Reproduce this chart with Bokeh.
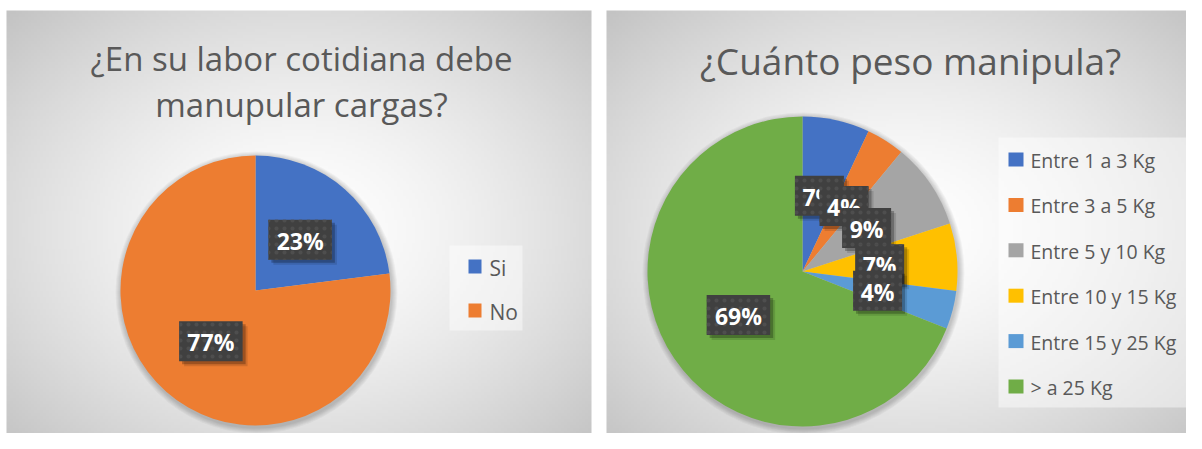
import numpy as np
from bokeh.plotting import figure
from bokeh.models import Range1d, ColumnDataSource
from bokeh.core.properties import value
from bokeh.embed import file_html
from bokeh.resources import INLINE

# ---------------- data ----------------
left_title = ["¿En su labor cotidiana debe", "manupular cargas?"]
left_categories = ["Si", "No"]
left_values = [23, 77]
left_labels = ["23%", "77%"]
left_colors = ["#4472C4", "#ED7D31"]

right_title = ["¿Cuánto peso manipula?"]
right_categories = ["Entre 1 a 3 Kg", "Entre 3 a 5 Kg", "Entre 5 y 10 Kg",
                    "Entre 10 y 15 Kg", "Entre 15 y 25 Kg", "> a 25 Kg"]
right_values = [7, 4, 9, 7, 4, 69]
right_labels = ["7%", "4%", "9%", "7%", "4%", "69%"]
right_colors = ["#4472C4", "#ED7D31", "#A5A5A5", "#FFC000", "#5B9BD5", "#70AD47"]

# ---------------- layout helpers ----------------
PAGE_H = 449
W, H = 1186, 433
FONT = "Open Sans"
TXT = "#595959"


def Y(py):
    """page pixel y (down) -> data y (up)"""
    return PAGE_H - py


p = figure(width=W, height=H, x_range=Range1d(0, W), y_range=Range1d(PAGE_H - H, PAGE_H),
           output_backend="svg", toolbar_location=None, min_border=0,
           x_axis_location=None, y_axis_location=None)
p.grid.visible = False
p.outline_line_color = None
p.background_fill_color = "white"
p.border_fill_color = "white"


def gradient_panel(x0, x1, top, bottom, step=3):
    w = x1 - x0
    h = bottom - top
    nx, ny = int(w / step) + 1, int(h / step) + 1
    xs = np.linspace(-1, 1, nx)
    ys = np.linspace(-1, 1, ny)
    gx, gy = np.meshgrid(xs, ys)
    t = np.sqrt(gx ** 2 + gy ** 2) / np.sqrt(2)
    t = np.clip(t, 0, 1)
    c = (255 - 60 * t ** 1.5).astype(np.uint32)
    img = (255 << 24) | (c << 16) | (c << 8) | c
    p.image_rgba(image=[img.astype(np.uint32)], x=x0, y=Y(bottom), dw=w, dh=h)


gradient_panel(6, 591, 10, 449)
gradient_panel(606, 1202, 10, 449)


def angles(vals):
    v = np.asarray(vals, dtype=float)
    frac = v / v.sum()
    cum = np.concatenate([[0.0], np.cumsum(frac)])
    start = np.pi / 2 - 2 * np.pi * cum[:-1]
    end = np.pi / 2 - 2 * np.pi * cum[1:]
    return start, end, (start + end) / 2


def draw_pie(cx, cy_page, r, vals, colors, labels):
    cy = Y(cy_page)
    # soft shadow around pie
    for k in range(6, 0, -1):
        p.circle(x=[cx + 1], y=[cy - 2], radius=r + k, fill_color="black",
                 fill_alpha=0.035, line_color=None)
    start, end, mid = angles(vals)
    src = ColumnDataSource(dict(start=start, end=end, color=colors))
    p.wedge(x=cx, y=cy, radius=r, start_angle="start", end_angle="end",
            direction="clock", fill_color="color", line_color=None, source=src)
    lx = cx + 0.5 * r * np.cos(mid)
    ly = cy + 0.5 * r * np.sin(mid)
    for i, lab in enumerate(labels):
        bw = 20 + 14.5 * len(lab)
        bh = 40
        for off, a in ((5, 0.12), (3, 0.25)):
            p.rect(x=[lx[i] + off], y=[ly[i] - off], width=bw, height=bh,
                   fill_color="black", fill_alpha=a, line_color=None)
        p.rect(x=[lx[i]], y=[ly[i]], width=bw, height=bh, fill_color="#404040",
               line_color=None, hatch_pattern="dot", hatch_color="#4e4e4e",
               hatch_scale=8, hatch_weight=1)
        p.text(x=[lx[i]], y=[ly[i] - 1], text=[lab], text_color="white",
               text_font=value(FONT), text_font_style="bold",
               text_font_size="23px", text_align="center", text_baseline="middle")


# ---------------- left chart ----------------
p.text(x=[301, 301], y=[Y(58), Y(104)], text=left_title, text_color=TXT,
       text_font=value(FONT), text_font_size="33px", text_align="center",
       text_baseline="middle")
draw_pie(255, 290, 135, left_values, left_colors, left_labels)

p.rect(x=[(449 + 522) / 2], y=[Y((245 + 330) / 2)], width=73, height=85,
       fill_color="white", fill_alpha=0.45, line_color=None)
ly_left = [Y(266 + 44 * i) for i in range(len(left_categories))]
p.rect(x=[474.5] * len(left_categories), y=ly_left, width=13, height=14,
       fill_color=left_colors, line_color=None)
p.text(x=[489] * len(left_categories), y=[v - 1 for v in ly_left], text=left_categories,
       text_color=TXT, text_font=value(FONT), text_font_size="21px",
       text_baseline="middle")

# ---------------- right chart ----------------
p.text(x=[910], y=[Y(60)], text=right_title, text_color=TXT,
       text_font=value(FONT), text_font_size="37px", text_align="center",
       text_baseline="middle")
draw_pie(802, 271, 155, right_values, right_colors, right_labels)

p.rect(x=[(998 + 1198) / 2], y=[Y((137 + 407) / 2)], width=200, height=270,
       fill_color="white", fill_alpha=0.45, line_color=None)
ly_right = [Y(159 + 45.4 * i) for i in range(len(right_categories))]
p.rect(x=[1015.5] * len(right_categories), y=ly_right, width=15, height=14,
       fill_color=right_colors, line_color=None)
p.text(x=[1030] * len(right_categories), y=[v - 1 for v in ly_right], text=right_categories,
       text_color=TXT, text_font=value(FONT), text_font_size="19.5px",
       text_baseline="middle")

open("out.html", "w").write(file_html(p, INLINE))
